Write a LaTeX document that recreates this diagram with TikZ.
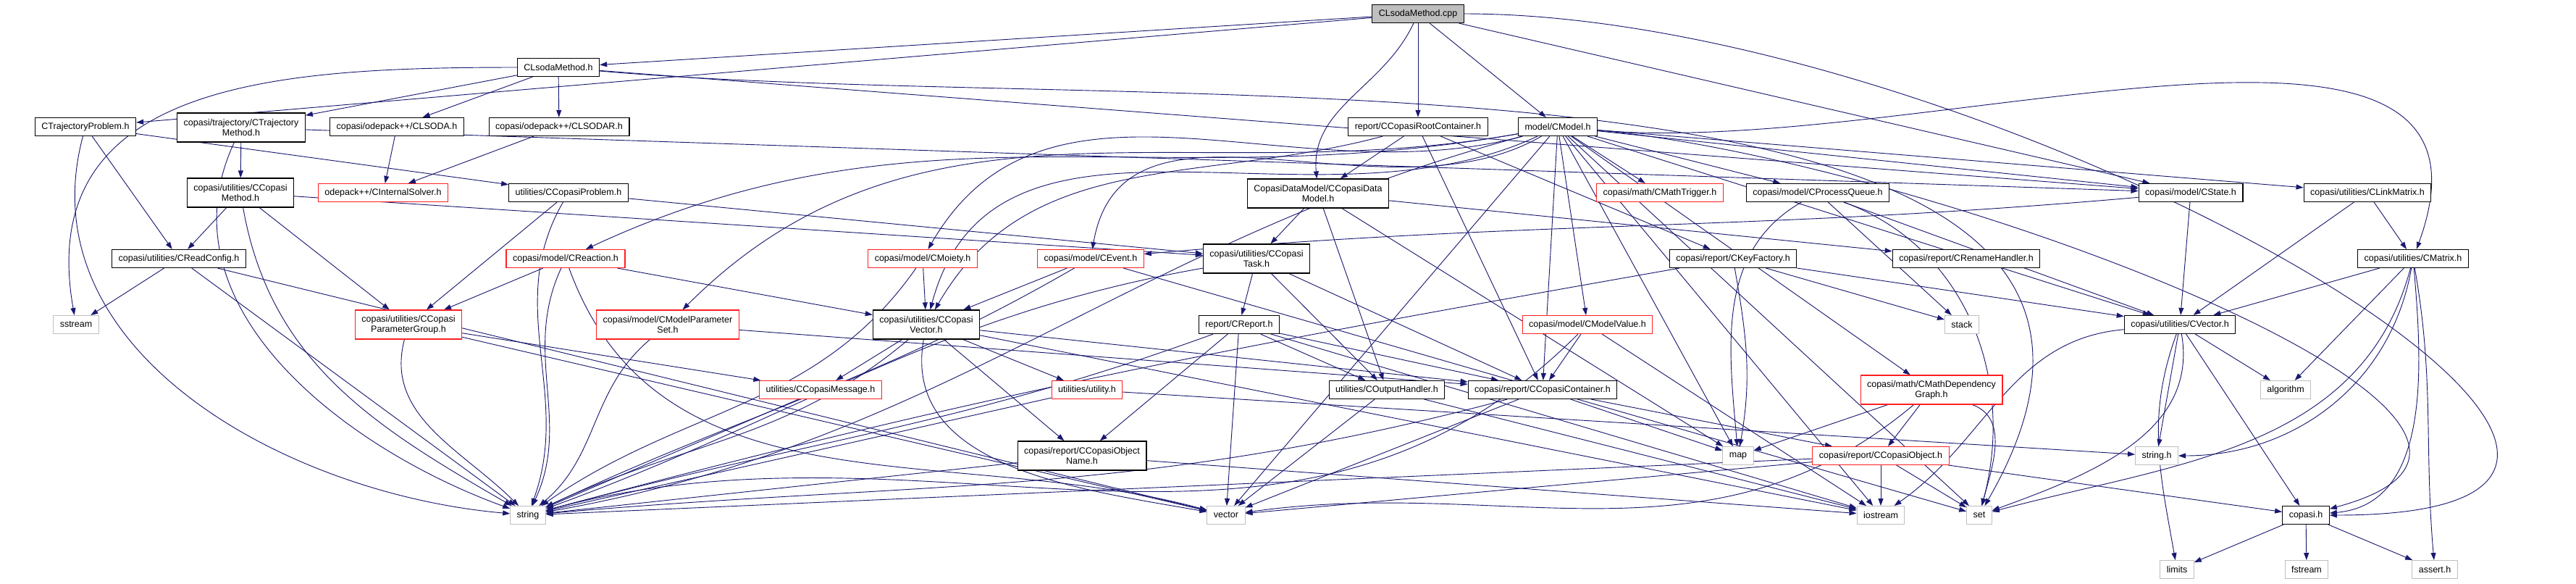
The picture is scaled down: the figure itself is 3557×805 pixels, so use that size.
\documentclass[tikz,border=0pt]{standalone}
\usepackage{fontspec}
\setmainfont{Liberation Sans}
\usepackage{xcolor}
\usepackage{tikz}
\usetikzlibrary{arrows.meta}
\definecolor{edgeblue}{HTML}{191970}
\definecolor{sysgray}{HTML}{BFBFBF}
\definecolor{truncred}{HTML}{FF2020}
\pgfdeclarelayer{background}
\pgfsetlayers{background,main}

\begin{document}
% one unit = one pixel of the 3557 x 805 graph, at 0.25pt
\begin{tikzpicture}[x=0.25pt, y=0.25pt,
  incfile/.style={fill=white, font=\fontsize{3.125}{3.575}\selectfont, inner xsep=2.25pt,
    inner ysep=0pt, minimum height=6.25pt, align=center},
  hdr/.style={incfile, draw=black, line width=0.3pt},
  trunc/.style={incfile, draw=truncred, line width=0.28pt},
  sys/.style={incfile, draw=sysgray, line width=0.25pt},
  rootfile/.style={incfile, draw=black, line width=0.3pt, fill=sysgray},
  tall/.style={minimum height=10pt},
  every edge/.style={draw=edgeblue, line width=0.23pt, -{Triangle[length=2.5pt,width=1.75pt]}}]
  \useasboundingbox (0,0) rectangle (3557,-805);

  % Rows of included files
  \node[rootfile] (cpp) at (1958,-19) {CLsodaMethod.cpp};
  \node[hdr] (lsodah) at (771,-93) {CLsodaMethod.h};

  \node[hdr] (trajprob) at (118,-175) {CTrajectoryProblem.h};
  \node[hdr, tall] (trajmeth) at (333,-176) {copasi/trajectory/CTrajectory\\Method.h};
  \node[hdr] (clsoda) at (548,-175) {copasi/odepack++/CLSODA.h};
  \node[hdr] (clsodar) at (772,-175) {copasi/odepack++/CLSODAR.h};
  \node[hdr] (rootcont) at (1958,-175) {report/CCopasiRootContainer.h};
  \node[hdr] (model) at (2151,-175) {model/CModel.h};

  \node[hdr, tall] (copmeth) at (332,-266) {copasi/utilities/CCopasi\\Method.h};
  \node[trunc] (intsolver) at (529,-266) {odepack++/CInternalSolver.h};
  \node[hdr] (copprob) at (785,-266) {utilities/CCopasiProblem.h};
  \node[hdr, tall] (datamodel) at (1820,-267) {CopasiDataModel/CCopasiData\\Model.h};
  \node[trunc] (mathtrig) at (2292,-266) {copasi/math/CMathTrigger.h};
  \node[hdr] (procq) at (2510,-266) {copasi/model/CProcessQueue.h};
  \node[hdr] (state) at (3025,-266) {copasi/model/CState.h};
  \node[hdr] (linkmat) at (3269,-266) {copasi/utilities/CLinkMatrix.h};

  \node[hdr] (readconf) at (247,-357) {copasi/utilities/CReadConfig.h};
  \node[trunc] (reaction) at (781,-357) {copasi/model/CReaction.h};
  \node[trunc] (moiety) at (1274,-357) {copasi/model/CMoiety.h};
  \node[trunc] (event) at (1506,-357) {copasi/model/CEvent.h};
  \node[hdr, tall] (task) at (1735,-357) {copasi/utilities/CCopasi\\Task.h};
  \node[hdr] (keyfact) at (2393,-357) {copasi/report/CKeyFactory.h};
  \node[hdr] (rename) at (2715,-357) {copasi/report/CRenameHandler.h};
  \node[hdr] (matrix) at (3332,-357) {copasi/utilities/CMatrix.h};

  \node[sys] (sstream) at (105,-448) {sstream};
  \node[trunc, tall] (paramgrp) at (564,-448) {copasi/utilities/CCopasi\\ParameterGroup.h};
  \node[trunc, tall] (mpset) at (922,-448) {copasi/model/CModelParameter\\Set.h};
  \node[hdr, tall] (copvec) at (1279,-448) {copasi/utilities/CCopasi\\Vector.h};
  \node[hdr] (report) at (1711,-448) {report/CReport.h};
  \node[trunc] (modelval) at (2192,-448) {copasi/model/CModelValue.h};
  \node[sys] (stack) at (2709,-448) {stack};
  \node[hdr] (cvector) at (3010,-448) {copasi/utilities/CVector.h};

  \node[trunc] (message) at (1133,-538) {utilities/CCopasiMessage.h};
  \node[trunc] (utility) at (1501,-538) {utilities/utility.h};
  \node[hdr] (outhandler) at (1915,-538) {utilities/COutputHandler.h};
  \node[hdr] (container) at (2130,-538) {copasi/report/CCopasiContainer.h};
  \node[trunc, tall] (depgraph) at (2667,-538) {copasi/math/CMathDependency\\Graph.h};
  \node[sys] (algorithm) at (3156,-538) {algorithm};

  \node[hdr, tall] (objname) at (1494,-629) {copasi/report/CCopasiObject\\Name.h};
  \node[sys] (map) at (2400,-629) {map};
  \node[trunc] (copobj) at (2597,-629) {copasi/report/CCopasiObject.h};
  \node[sys] (stringh) at (2978,-629) {string.h};

  \node[sys] (string) at (729,-711) {string};
  \node[sys] (vector) at (1693,-711) {vector};
  \node[sys] (iostream) at (2597,-711) {iostream};
  \node[sys] (set) at (2733,-711) {set};
  \node[hdr] (copasih) at (3184,-711) {copasi.h};

  \node[sys] (limits) at (3006,-786) {limits};
  \node[sys] (fstream) at (3185,-786) {fstream};
  \node[sys] (asserth) at (3362,-786) {assert.h};

  \begin{pgfonlayer}{background}
  \fill[white] (0,0) rectangle (3557,-805);
  % Include edges, one statement per including file
  \path (cpp) edge (lsodah) edge (trajprob) edge (rootcont) edge (model)
    edge[out=-115,in=95] (datamodel) edge (state)
    edge[out=0,in=0,looseness=1.35] (copasih);
  \path (lsodah) edge (trajmeth) edge (clsoda) edge (clsodar)
    edge[out=180,in=100,looseness=1.2] (sstream) edge[out=-5,in=60] (set) edge (state);
  \path (trajprob) edge[out=-105,in=175] (string) edge (readconf) edge (copprob);
  \path (trajmeth) edge (copmeth) edge[out=-115,in=160] (string) edge (state);
  \path (copmeth) edge (readconf) edge (paramgrp) edge[out=-80,in=150] (string) edge (task);
  \path (clsoda) edge (intsolver);
  \path (clsodar) edge (intsolver);
  \path (copprob) edge (paramgrp) edge[out=-120,in=70] (string) edge (task);
  \path (readconf) edge (sstream) edge (string) edge (vector);
  \path (reaction) edge (paramgrp) edge (copvec) edge[out=-115,in=65] (string)
    edge[out=-70,in=165] (vector);
  \path (paramgrp) edge[out=-105,in=135] (string) edge (message) edge (vector);
  \path (mpset) edge[out=-140,in=40] (string) edge (container);
  \path (moiety) edge (copvec) edge[out=-125,in=35] (string);
  \path (event) edge (copvec) edge[out=-150,in=25] (string) edge (set);
  \path (task) edge (report) edge (outhandler) edge (container) edge[out=-170,in=20] (string);
  \path (datamodel) edge (task) edge (outhandler) edge (map) edge (rename);
  \path (rootcont) edge (datamodel) edge (keyfact) edge (container)
    edge[out=-165,in=60] (copvec);
  \path (model) edge[out=-170,in=25] (reaction) edge[out=-165,in=60] (moiety)
    edge[out=-150,in=80] (event) edge[out=-170,in=45] (mpset)
    edge[out=-155,in=75] (copvec) edge (modelval) edge (mathtrig) edge (procq)
    edge (state) edge (linkmat) edge[out=-5,in=70] (matrix) edge (cvector)
    edge (depgraph) edge (container) edge (map) edge (vector)
    edge[out=-165,in=10] (string) edge (set) edge (iostream)
    edge[out=-5,in=15] (copasih);
  \path (procq) edge[out=-150,in=95] (map) edge[out=-20,in=75] (set) edge (cvector) edge (stack);
  \path (state) edge (cvector) edge[out=185,in=5] (event);
  \path (linkmat) edge (matrix) edge (cvector);
  \path (keyfact) edge (stack) edge[out=-80,in=80] (map) edge (cvector)
    edge[out=-170,in=15] (string);
  \path (matrix) edge (cvector) edge (algorithm) edge[out=-100,in=0] (stringh)
    edge[out=-105,in=15] (set) edge[out=-85,in=5] (copasih) edge[out=-80,in=95] (asserth);
  \path (cvector) edge[out=-110,in=100] (limits) edge (stringh) edge (algorithm)
    edge (copasih) edge[out=-80,in=20] (set) edge[out=185,in=35] (iostream);
  \path (report) edge (objname) edge (vector) edge (outhandler) edge (container)
    edge[out=-160,in=15] (string) edge (iostream);
  \path (copvec) edge (message) edge (utility) edge (objname)
    edge[out=-100,in=170] (vector) edge[out=-140,in=25] (string) edge (container)
    edge (iostream);
  \path (message) edge (string);
  \path (utility) edge (string) edge (stringh);
  \path (objname) edge (string) edge (iostream);
  \path (outhandler) edge (vector) edge (iostream);
  \path (container) edge (map) edge (copobj) edge (vector) edge[out=-165,in=5] (string);
  \path (modelval) edge (container) edge[out=-135,in=15] (string) edge (iostream);
  \path (depgraph) edge (map) edge (copobj) edge[out=-20,in=75] (set)
    edge[out=-140,in=8] (vector);
  \path (copobj) edge (iostream) edge (set) edge (string) edge (vector) edge (copasih);
  \path (copasih) edge (limits) edge (fstream) edge (asserth);
  \end{pgfonlayer}
\end{tikzpicture}
\end{document}
